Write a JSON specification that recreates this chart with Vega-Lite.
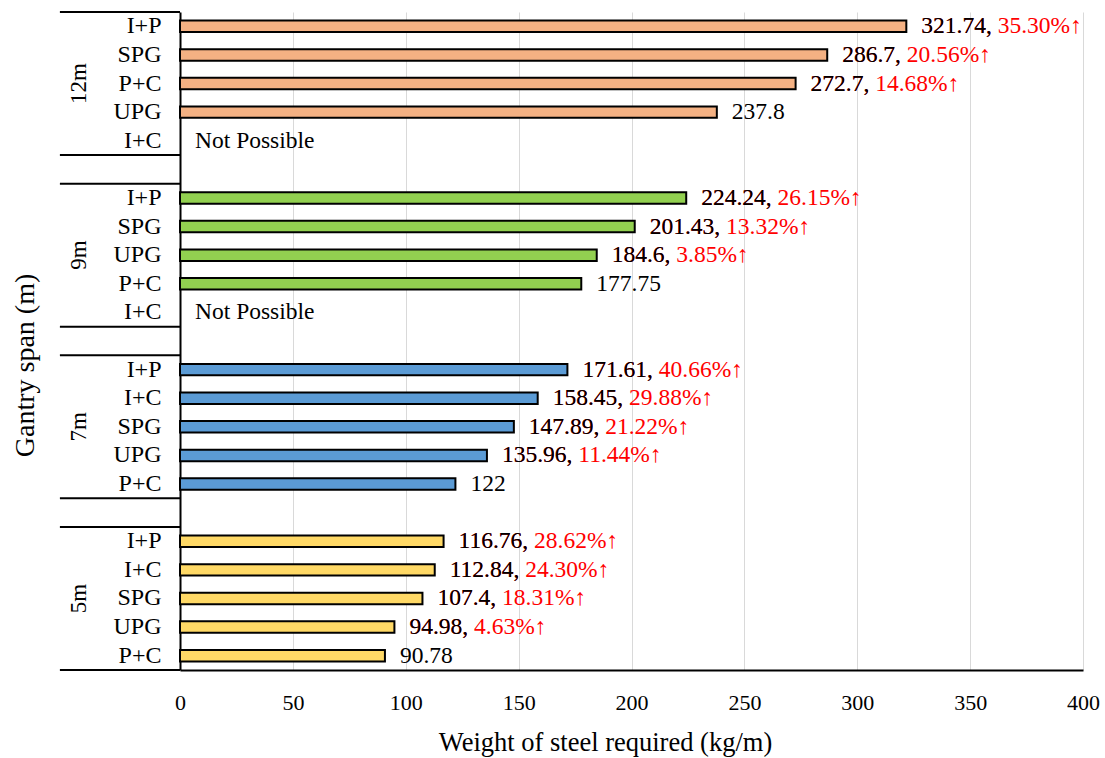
{
  "$schema": "https://vega.github.io/schema/vega-lite/v6.json",
  "width": 903,
  "height": 658,
  "autosize": "none",
  "padding": {"left": 180, "top": 12, "right": 22, "bottom": 88},
  "background": "white",
  "config": {
    "view": {"stroke": null},
    "font": "Liberation Serif",
    "text": {"font": "Liberation Serif"}
  },
  "datasets": {
    "bars": [
      {"row": "12m|I+P", "span": "12m", "cat": "I+P", "value": 321.74, "lab": "321.74,", "full": "321.74, 35.30%↑"},
      {"row": "12m|SPG", "span": "12m", "cat": "SPG", "value": 286.7, "lab": "286.7,", "full": "286.7, 20.56%↑"},
      {"row": "12m|P+C", "span": "12m", "cat": "P+C", "value": 272.7, "lab": "272.7,", "full": "272.7, 14.68%↑"},
      {"row": "12m|UPG", "span": "12m", "cat": "UPG", "value": 237.8, "lab": "237.8", "full": null},
      {"row": "12m|I+C", "span": "12m", "cat": "I+C", "value": 0, "lab": "Not Possible", "full": null},
      {"row": "9m|I+P", "span": "9m", "cat": "I+P", "value": 224.24, "lab": "224.24,", "full": "224.24, 26.15%↑"},
      {"row": "9m|SPG", "span": "9m", "cat": "SPG", "value": 201.43, "lab": "201.43,", "full": "201.43, 13.32%↑"},
      {"row": "9m|UPG", "span": "9m", "cat": "UPG", "value": 184.6, "lab": "184.6,", "full": "184.6, 3.85%↑"},
      {"row": "9m|P+C", "span": "9m", "cat": "P+C", "value": 177.75, "lab": "177.75", "full": null},
      {"row": "9m|I+C", "span": "9m", "cat": "I+C", "value": 0, "lab": "Not Possible", "full": null},
      {"row": "7m|I+P", "span": "7m", "cat": "I+P", "value": 171.61, "lab": "171.61,", "full": "171.61, 40.66%↑"},
      {"row": "7m|I+C", "span": "7m", "cat": "I+C", "value": 158.45, "lab": "158.45,", "full": "158.45, 29.88%↑"},
      {"row": "7m|SPG", "span": "7m", "cat": "SPG", "value": 147.89, "lab": "147.89,", "full": "147.89, 21.22%↑"},
      {"row": "7m|UPG", "span": "7m", "cat": "UPG", "value": 135.96, "lab": "135.96,", "full": "135.96, 11.44%↑"},
      {"row": "7m|P+C", "span": "7m", "cat": "P+C", "value": 122, "lab": "122", "full": null},
      {"row": "5m|I+P", "span": "5m", "cat": "I+P", "value": 116.76, "lab": "116.76,", "full": "116.76, 28.62%↑"},
      {"row": "5m|I+C", "span": "5m", "cat": "I+C", "value": 112.84, "lab": "112.84,", "full": "112.84, 24.30%↑"},
      {"row": "5m|SPG", "span": "5m", "cat": "SPG", "value": 107.4, "lab": "107.4,", "full": "107.4, 18.31%↑"},
      {"row": "5m|UPG", "span": "5m", "cat": "UPG", "value": 94.98, "lab": "94.98,", "full": "94.98, 4.63%↑"},
      {"row": "5m|P+C", "span": "5m", "cat": "P+C", "value": 90.78, "lab": "90.78", "full": null}
    ],
    "starts": [
      {"row": "12m|I+P"}, {"row": "gap1"}, {"row": "9m|I+P"}, {"row": "gap2"},
      {"row": "7m|I+P"}, {"row": "gap3"}, {"row": "5m|I+P"}
    ],
    "ends": [{"row": "5m|P+C"}],
    "groups": [
      {"row": "12m|P+C", "span": "12m"},
      {"row": "9m|UPG", "span": "9m"},
      {"row": "7m|SPG", "span": "7m"},
      {"row": "5m|SPG", "span": "5m"}
    ]
  },
  "layer": [
    {
      "data": {"name": "bars"},
      "transform": [{"filter": "datum.value > 0"}],
      "mark": {"type": "bar", "height": {"band": 0.4}, "stroke": "#000000", "strokeWidth": 2},
      "encoding": {
        "y": {
          "field": "row", "type": "nominal", "title": "Gantry span (m)",
          "scale": {
            "domain": ["12m|I+P","12m|SPG","12m|P+C","12m|UPG","12m|I+C","gap1","9m|I+P","9m|SPG","9m|UPG","9m|P+C","9m|I+C","gap2","7m|I+P","7m|I+C","7m|SPG","7m|UPG","7m|P+C","gap3","5m|I+P","5m|I+C","5m|SPG","5m|UPG","5m|P+C"],
            "paddingInner": 0, "paddingOuter": 0
          },
          "axis": {
            "labelExpr": "indexof(datum.value, '|') >= 0 ? split(datum.value, '|')[1] : ''",
            "ticks": false, "grid": false,
            "domainColor": "#000000", "domainWidth": 2,
            "labelPadding": 19, "labelFontSize": 24, "labelColor": "#000000", "labelFont": "Liberation Serif",
            "labelLimit": 200,
            "titleFont": "Liberation Serif", "titleFontSize": 28, "titleFontWeight": "normal", "titleColor": "#000000",
            "titleAngle": 270, "titleX": -155, "titleY": 353, "titleAlign": "center", "titleBaseline": "middle"
          }
        },
        "x": {
          "field": "value", "type": "quantitative", "title": "Weight of steel required (kg/m)",
          "scale": {"domain": [0, 400], "nice": false},
          "axis": {
            "values": [0, 50, 100, 150, 200, 250, 300, 350, 400],
            "ticks": false, "grid": true, "gridColor": "#D9D9D9", "gridWidth": 1,
            "domainColor": "#000000", "domainWidth": 2, "labelFlush": false,
            "labelPadding": 22, "labelFontSize": 22, "labelColor": "#000000", "labelFont": "Liberation Serif",
            "titleFont": "Liberation Serif", "titleFontSize": 26.5, "titleFontWeight": "normal", "titleColor": "#000000",
            "titleX": 425, "titleY": 72, "titleAlign": "center", "titleBaseline": "middle"
          }
        },
        "color": {
          "field": "span", "type": "nominal", "legend": null,
          "scale": {"domain": ["12m", "9m", "7m", "5m"], "range": ["#F4B183", "#92D050", "#5B9BD5", "#FFD966"]}
        }
      }
    },
    {
      "data": {"name": "starts"},
      "mark": {"type": "rule", "color": "#000000", "strokeWidth": 2},
      "encoding": {
        "y": {"field": "row", "type": "nominal", "bandPosition": 0, "title": "Gantry span (m)"},
        "x": {"datum": -53.2, "type": "quantitative", "title": "Weight of steel required (kg/m)"},
        "x2": {"datum": 0}
      }
    },
    {
      "data": {"name": "ends"},
      "mark": {"type": "rule", "color": "#000000", "strokeWidth": 2},
      "encoding": {
        "y": {"field": "row", "type": "nominal", "bandPosition": 1, "title": "Gantry span (m)"},
        "x": {"datum": -53.2, "type": "quantitative", "title": "Weight of steel required (kg/m)"},
        "x2": {"datum": 0}
      }
    },
    {
      "data": {"name": "bars"},
      "transform": [{"filter": "datum.full != null"}],
      "mark": {"type": "text", "align": "left", "baseline": "middle", "dx": 15, "fontSize": 23.5, "color": "#FF0000", "font": "Liberation Serif"},
      "encoding": {
        "y": {"field": "row", "type": "nominal", "title": "Gantry span (m)"},
        "x": {"field": "value", "type": "quantitative", "title": "Weight of steel required (kg/m)"},
        "text": {"field": "full"}
      }
    },
    {
      "data": {"name": "bars"},
      "mark": {"type": "text", "align": "left", "baseline": "middle", "dx": 15, "fontSize": 23.5, "color": "#000000", "font": "Liberation Serif"},
      "encoding": {
        "y": {"field": "row", "type": "nominal", "title": "Gantry span (m)"},
        "x": {"field": "value", "type": "quantitative", "title": "Weight of steel required (kg/m)"},
        "text": {"field": "lab"}
      }
    },
    {
      "data": {"name": "groups"},
      "mark": {"type": "text", "align": "center", "baseline": "middle", "angle": 270, "fontSize": 23, "color": "#000000", "font": "Liberation Serif"},
      "encoding": {
        "y": {"field": "row", "type": "nominal", "title": "Gantry span (m)"},
        "x": {"datum": -44.7, "type": "quantitative", "title": "Weight of steel required (kg/m)"},
        "text": {"field": "span"}
      }
    }
  ]
}
